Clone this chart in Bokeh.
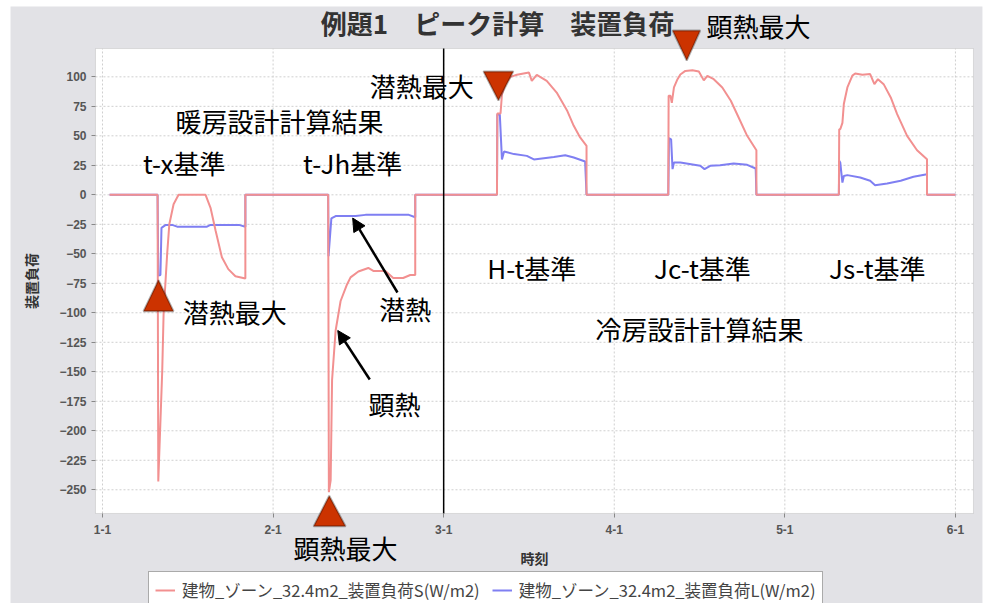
from bokeh.plotting import figure
from bokeh.models import (FixedTicker, Label, PolyAnnotation, Arrow, NormalHead, BoxAnnotation,
                          Legend, LegendItem, Range1d, ColumnDataSource)
from bokeh.embed import file_html
from bokeh.resources import INLINE

# ---- data (hours from 1-1 00:00, load W/m2) ----
hours_S = [1.0, 7.75, 7.85, 8.4, 8.6, 9.1, 9.4, 10.0, 10.7, 14.5, 15.2, 15.9, 16.8, 17.7, 18.7, 20.1, 20.1,
           31.75, 31.85, 32.1, 32.3, 32.8, 33.5, 34.4, 34.9, 36.0, 37.4, 38.1, 39.8, 40.9, 42.3, 43.3, 44.0, 44.0,
           55.5, 55.55, 56.0, 56.2, 56.7, 57.4, 58.3, 60.0, 60.4, 61.1, 62.5, 63.9, 65.4, 66.3, 67.2, 68.1, 68.1,
           79.6, 79.65, 79.9, 80.1, 80.4, 80.9, 81.3, 82.0, 83.0, 83.9, 84.6, 85.1, 86.0, 87.2, 88.4, 89.5, 90.7, 92.0, 92.0,
           103.6, 103.65, 103.8, 104.1, 104.3, 104.8, 105.5, 105.9, 106.9, 108.0, 108.6, 109.1, 109.9, 110.9, 111.8,
           113.2, 114.6, 116.0, 116.0, 120.0]
load_S = [0, 0, -243, -150, -100, -50, -25, -8, 0, 0, -11, -30, -53, -63, -69, -71, 0,
          0, -252, -242, -157, -115, -90, -76, -70, -65, -62, -64.5, -64.5, -70.5, -70.5, -68, -68, 0,
          0, 69, 69, 85, 95, 100, 101.7, 103.6, 96.6, 101.7, 96.6, 86.7, 71, 58.5, 48.6, 41.5, 0,
          0, 84, 84, 78, 91, 98, 102, 105, 105.6, 104.5, 97, 100.8, 98, 91, 79.7, 65.5, 50, 37.8, 0,
          0, 55.6, 55.6, 61, 77, 91, 101, 102.8, 101.7, 102.3, 93.8, 98, 93.8, 82.5, 68.4,
          50, 37.8, 30.2, 0, 0]

hours_L = [1.0, 7.75, 7.85, 8.15, 8.3, 8.9, 9.8, 10.5, 14.7, 15.2, 19.2, 20.1, 20.1,
           31.75, 31.8, 32.2, 32.8, 35.6, 37.0, 43.1, 44.0, 44.0,
           55.5, 55.55, 55.9, 56.2, 56.5, 57.9, 59.7, 60.7, 62.1, 63.5, 65.1, 66.3, 67.9, 68.1,
           79.6, 79.7, 80.0, 80.2, 80.4, 81.3, 84.1, 84.7, 85.5, 86.9, 88.8, 90.7, 91.9, 92.0,
           103.6, 103.65, 103.8, 104.1, 104.3, 104.8, 106.6, 108.0, 108.7, 110.4, 112.3, 114.1, 116.0, 116.0, 120.0]
load_L = [0, 0, -68.5, -68, -28, -25.5, -25.5, -27, -27, -25.5, -25.5, -27, 0,
          0, -52, -20, -18, -18, -17, -17, -19, 0,
          0, 68, 68, 30, 36.7, 34.5, 33, 30, 31, 32, 33.6, 31.6, 28.2, 0,
          0, 48, 47, 21.8, 27.4, 27.4, 24.6, 21.8, 24.6, 25.1, 26.5, 25.4, 22.3, 0,
          0, 28.8, 27.4, 10.4, 16, 16.7, 14.7, 11.9, 8.2, 9.6, 11.9, 15.3, 17.5, 0, 0]

tick_hours = [0, 24, 48, 72, 96, 120]
tick_labels = ["1-1", "2-1", "3-1", "4-1", "5-1", "6-1"]
y_ticks = [-250, -225, -200, -175, -150, -125, -100, -75, -50, -25, 0, 25, 50, 75, 100]

series_names = ["建物_ゾーン_32.4m2_装置負荷S(W/m2)", "建物_ゾーン_32.4m2_装置負荷L(W/m2)"]

# plot-area extent (data units)
X_LO, X_HI = -0.985, 122.54
Y_LO, Y_HI = -270.1, 124.0

JP = "Noto Sans CJK JP"
W, H = 983, 603

p = figure(width=W, height=H, output_backend="svg", toolbar_location=None,
           x_range=Range1d(-14.35, 123.95), y_range=Range1d(-346.4, 164.7),
           min_border=0, min_border_left=0, min_border_right=0, min_border_top=0, min_border_bottom=0,
           background_fill_color="white", border_fill_color="white", outline_line_color=None)

# figure background (gray) and plot area (white)
p.add_layout(BoxAnnotation(left=-12.94, right=123.8, top=159.6, bottom=-346.4,
                           fill_color="#e2e2e6", fill_alpha=1.0, line_color=None, level="underlay"))
p.add_layout(BoxAnnotation(left=X_LO, right=X_HI, top=Y_HI, bottom=Y_LO,
                           fill_color="white", fill_alpha=1.0, line_color="#a0a0a0",
                           line_width=1, level="underlay"))

# grid lines (dotted) restricted to plot area
p.grid.visible = False
p.segment(x0=tick_hours, y0=[Y_LO] * len(tick_hours), x1=tick_hours, y1=[Y_HI] * len(tick_hours),
          line_color="#cfcfcf", line_dash="2 2", line_width=1)
p.segment(x0=[X_LO] * len(y_ticks), y0=y_ticks, x1=[X_HI] * len(y_ticks), y1=y_ticks,
          line_color="#cfcfcf", line_dash="2 2", line_width=1)

src_S = ColumnDataSource(dict(x=hours_S, y=load_S))
src_L = ColumnDataSource(dict(x=hours_L, y=load_L))
r_L = p.line("x", "y", source=src_L, line_color="#7f7ff2", line_width=2)
r_S = p.line("x", "y", source=src_S, line_color="#f29090", line_width=2)

# vertical separator at 3-1
p.segment(x0=[tick_hours[2]], y0=[Y_LO], x1=[tick_hours[2]], y1=[Y_HI], line_color="black", line_width=1.5)

# axes (fixed at plot-area edges)
p.xaxis.fixed_location = Y_LO
p.yaxis.fixed_location = X_LO
p.xaxis.bounds = (X_LO, X_HI)
p.yaxis.bounds = (Y_LO, Y_HI)
p.xaxis.ticker = FixedTicker(ticks=tick_hours)
p.xaxis.major_label_overrides = {h: l for h, l in zip(tick_hours, tick_labels)}
p.yaxis.ticker = FixedTicker(ticks=y_ticks)
p.xaxis.axis_label = "時刻"
p.yaxis.axis_label = "装置負荷"
for ax in (p.xaxis, p.yaxis):
    ax.axis_label_text_font = JP
    ax.axis_label_text_font_style = "bold"
    ax.axis_label_text_font_size = "14px"
    ax.axis_label_text_color = "#333333"
    ax.major_label_text_font = "Liberation Sans"
    ax.major_label_text_font_style = "bold"
    ax.major_label_text_font_size = "12px"
    ax.major_label_text_color = "#555555"
    ax.axis_line_color = None
    ax.major_tick_line_color = "#888888"
    ax.major_tick_out = 4
    ax.major_tick_in = 0
    ax.minor_tick_line_color = None
    ax.major_label_standoff = 5
p.xaxis.major_label_standoff = 8
p.yaxis.axis_label_standoff = 15
p.xaxis.axis_label_standoff = 10

# title
p.add_layout(Label(x=55.57, y=146.0, text="例題1　ピーク計算　装置負荷", text_font=JP,
                   text_font_style="bold", text_font_size="26px", text_color="#333333",
                   text_align="center", text_baseline="middle"))

def txt(x, y, s):
    p.add_layout(Label(x=x, y=y, text=s, text_font=JP, text_font_size="26px",
                       text_color="black", text_align="center", text_baseline="middle"))

txt(24.9, 63, "暖房設計計算結果")
txt(11.5, 27.4, "t-x基準")
txt(35.2, 27.4, "t-Jh基準")
txt(44.9, 92.6, "潜熱最大")
txt(92.3, 143.5, "顕熱最大")
txt(18.6, -98.9, "潜熱最大")
txt(42.6, -96.4, "潜熱")
txt(41.1, -177, "顕熱")
txt(34.2, -299, "顕熱最大")
txt(60.4, -61.6, "H-t基準")
txt(84.4, -61.6, "Jc-t基準")
txt(109.0, -61.6, "Js-t基準")
txt(84.0, -113.3, "冷房設計計算結果")

def tri(xs, ys):
    p.add_layout(PolyAnnotation(xs=xs, ys=ys, fill_color="#cc3300", fill_alpha=1.0,
                                line_color="black", line_width=2))

tri([53.6, 57.8, 55.7], [104.6, 104.6, 79.9])
tri([80.2, 84.1, 82.2], [139.2, 139.2, 113.8])
tri([5.77, 9.99, 7.88], [-98.6, -98.6, -72.3])
tri([29.7, 34.2, 31.9], [-281, -281, -255])

for xs, ys, xe, ye in [(41.5, -82.8, 35.2, -19.7), (37.6, -156.5, 33.1, -115)]:
    p.add_layout(Arrow(end=NormalHead(size=13, fill_color="black", line_color="black"),
                       x_start=xs, y_start=ys, x_end=xe, y_end=ye,
                       line_color="black", line_width=2.5))

legend = Legend(items=[LegendItem(label=series_names[0], renderers=[r_S]),
                       LegendItem(label=series_names[1], renderers=[r_L])],
                orientation="horizontal", location=(148, -6),
                label_text_font=JP, label_text_font_size="16.5px", label_text_color="#444444",
                border_line_color="#555555", border_line_width=1.5,
                background_fill_color="white", background_fill_alpha=1.0,
                glyph_width=20, spacing=12, padding=6, margin=0, label_standoff=7)
p.add_layout(legend)

open("out.html", "w").write(file_html(p, INLINE))
